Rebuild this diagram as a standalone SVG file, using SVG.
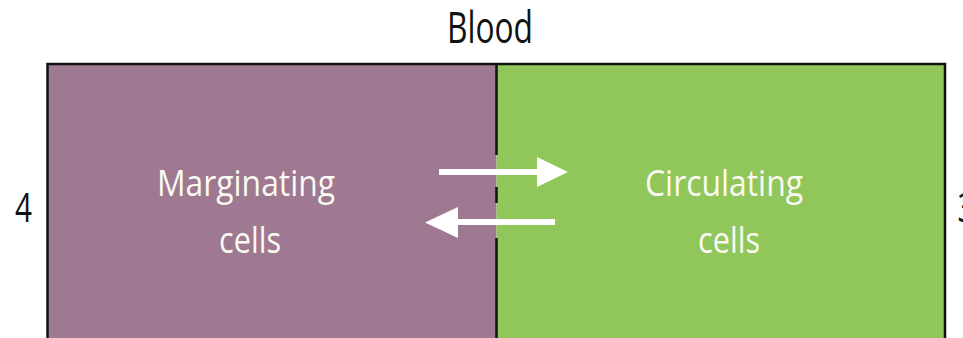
<svg xmlns="http://www.w3.org/2000/svg" width="963" height="338" viewBox="0 0 963 338">
<style>
.lbl{font-family:"Open Sans","Noto Sans",sans-serif;font-size:36px;fill:#FAFAF2;text-anchor:middle}
.blk{font-family:"Open Sans","Noto Sans",sans-serif;fill:#111;text-anchor:middle}
.div{stroke:#111;stroke-width:2.5;fill:none}
.arr{fill:#FFFFFF}
</style>
<rect width="963" height="338" fill="#FFFFFF"/>
<g id="title"><text class="blk" x="490" y="43" font-size="43" textLength="86" lengthAdjust="spacingAndGlyphs">Blood</text></g>
<g id="label-4"><text class="blk" x="23.5" y="222" font-size="40" textLength="17" lengthAdjust="spacingAndGlyphs">4</text></g>
<g id="label-3"><text class="blk" x="966" y="222" font-size="40" textLength="17" lengthAdjust="spacingAndGlyphs">3</text></g>
<g id="marginating">
<rect x="47.5" y="64" width="449" height="290" fill="#9F7891"/>
<text class="lbl" x="246" y="195.5" textLength="178" lengthAdjust="spacingAndGlyphs">Marginating</text>
<text class="lbl" x="250" y="253" textLength="62" lengthAdjust="spacingAndGlyphs">cells</text>
</g>
<g id="circulating">
<rect x="496.5" y="64" width="448.5" height="290" fill="#91C75A"/>
<text class="lbl" x="724" y="195.5" textLength="158" lengthAdjust="spacingAndGlyphs">Circulating</text>
<text class="lbl" x="729" y="253" textLength="62" lengthAdjust="spacingAndGlyphs">cells</text>
</g>
<g id="border">
<path d="M47.5 345V64H945V345" class="div"/>
<path d="M496.5 64V155M496.5 187V203M496.5 238V345" class="div"/>
</g>
<g id="connectors">
<path class="arr" d="M439 169H537V157L568 172L537 187V175H439Z"/>
<path class="arr" d="M555 219H458V207L425 222.5L458 238V225H555Z"/>
</g>
</svg>
